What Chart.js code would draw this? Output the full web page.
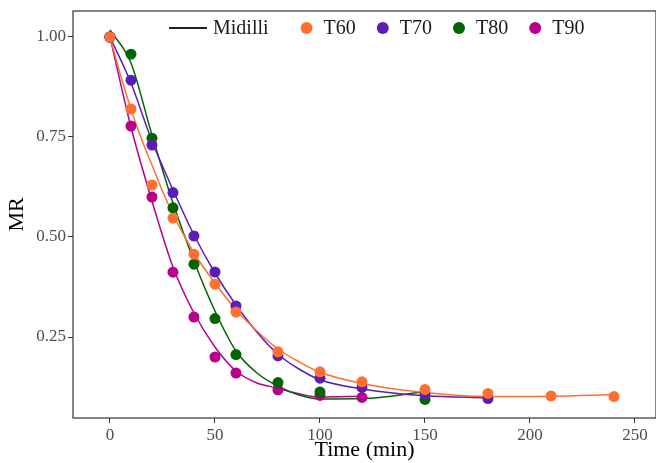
<!DOCTYPE html>
<html>
<head>
<meta charset="utf-8">
<script src="https://cdn.jsdelivr.net/npm/chart.js@4"></script>
<style>
  html, body { margin: 0; padding: 0; background: #fff; }
</style>
</head>
<body>
<canvas id="mrChart" width="656" height="463"></canvas>
<script>
// measured points (time in min, MR)
const t60Time = [0, 10, 20, 30, 40, 50, 60, 80, 100, 120, 150, 180, 210, 240];
const t60MR   = [1.00, 0.82, 0.63, 0.547, 0.457, 0.382, 0.3125, 0.213, 0.163, 0.138, 0.119, 0.109, 0.1025, 0.101];
const t70Time = [0, 10, 20, 30, 40, 50, 60, 80, 100, 120, 150, 180];
const t70MR   = [1.00, 0.892, 0.73, 0.611, 0.5025, 0.4125, 0.3275, 0.203, 0.147, 0.124, 0.107, 0.096];
const t80Time = [0, 10, 20, 30, 40, 50, 60, 80, 100, 150];
const t80MR   = [1.00, 0.957, 0.747, 0.573, 0.432, 0.296, 0.206, 0.136, 0.1125, 0.094];
const t90Time = [0, 10, 20, 30, 40, 50, 60, 80, 100, 120];
const t90MR   = [1.00, 0.7775, 0.60, 0.412, 0.30, 0.20, 0.16, 0.118, 0.104, 0.099];

// Midilli fitted curves
const fit60Time = [0, 5, 10, 15, 20, 25, 30, 40, 50, 60, 70, 80, 90, 100, 120, 150, 180, 210, 240];
const fit60MR   = [1.00, 0.905, 0.82, 0.745, 0.68, 0.615, 0.557, 0.46, 0.385, 0.318, 0.265, 0.22, 0.188, 0.162, 0.134, 0.111, 0.101, 0.102, 0.106];
const fit70Time = [0, 10, 20, 30, 40, 50, 60, 70, 80, 90, 100, 120, 150, 180];
const fit70MR   = [1.00, 0.885, 0.74, 0.618, 0.505, 0.41, 0.33, 0.262, 0.207, 0.17, 0.143, 0.12, 0.103, 0.098];
const fit80Time = [0, 10, 20, 30, 40, 50, 60, 70, 80, 90, 100, 120, 150];
const fit80MR   = [1.018, 0.935, 0.755, 0.585, 0.44, 0.315, 0.215, 0.16, 0.127, 0.105, 0.095, 0.096, 0.113];
const fit90Time = [0, 10, 20, 30, 40, 50, 60, 70, 80, 90, 100, 120];
const fit90MR   = [1.00, 0.775, 0.59, 0.425, 0.31, 0.225, 0.165, 0.135, 0.122, 0.108, 0.100, 0.102];

const xTicks = [0, 50, 100, 150, 200, 250];
const yTicks = [0.25, 0.50, 0.75, 1.00];

const seriesNames  = ['T60', 'T70', 'T80', 'T90'];
const seriesColors = ['#ff7030', '#5b1db5', '#006400', '#b8008c'];

const serif = '"Liberation Serif", "DejaVu Serif", serif';

function toXY(xs, ys) {
  return xs.map((x, i) => ({ x: x, y: ys[i] }));
}

const pointSets = [[t60Time, t60MR], [t70Time, t70MR], [t80Time, t80MR], [t90Time, t90MR]];
const fitSets   = [[fit60Time, fit60MR], [fit70Time, fit70MR], [fit80Time, fit80MR], [fit90Time, fit90MR]];

const datasets = [];
pointSets.forEach((s, i) => {
  datasets.push({
    label: seriesNames[i],
    data: toXY(s[0], s[1]),
    showLine: false,
    pointRadius: 5.5,
    pointHoverRadius: 5.5,
    pointBackgroundColor: seriesColors[i],
    pointBorderWidth: 0,
    borderColor: seriesColors[i],
    order: 0
  });
});
fitSets.forEach((s, i) => {
  datasets.push({
    label: 'Midilli ' + seriesNames[i],
    data: toXY(s[0], s[1]),
    showLine: true,
    borderColor: seriesColors[i],
    borderWidth: 1.5,
    pointRadius: 0,
    cubicInterpolationMode: 'monotone',
    order: 1
  });
});

// frame around the panel
const framePlugin = {
  id: 'frame',
  afterDatasetsDraw(chart) {
    const a = chart.chartArea;
    const ctx = chart.ctx;
    ctx.save();
    ctx.strokeStyle = '#333333';
    ctx.lineWidth = 1.2;
    ctx.strokeRect(a.left, a.top, a.right - a.left, a.bottom - a.top);
    ctx.restore();
  }
};

// legend drawn inside the panel like ggplot
const legendPlugin = {
  id: 'insideLegend',
  afterDraw(chart) {
    const ctx = chart.ctx;
    const y = 28;
    let x = 169;
    ctx.save();
    ctx.font = '20px ' + serif;
    ctx.textBaseline = 'middle';
    ctx.fillStyle = '#1a1a1a';
    ctx.strokeStyle = '#222222';
    ctx.lineWidth = 1.8;
    ctx.beginPath();
    ctx.moveTo(x, y);
    ctx.lineTo(x + 38, y);
    ctx.stroke();
    ctx.fillText('Midilli', x + 44, y + 1);
    x += 44 + ctx.measureText('Midilli').width + 38;
    seriesNames.forEach((name, i) => {
      ctx.fillStyle = seriesColors[i];
      ctx.beginPath();
      ctx.arc(x, y, 6, 0, Math.PI * 2);
      ctx.fill();
      ctx.fillStyle = '#1a1a1a';
      ctx.fillText(name, x + 17, y + 1);
      x += 17 + ctx.measureText(name).width + 27;
    });
    ctx.restore();
  }
};

const mrChart = new Chart(document.getElementById('mrChart'), {
  type: 'scatter',
  data: { datasets: datasets },
  options: {
    responsive: false,
    animation: false,
    layout: { autoPadding: false, padding: { top: 11, right: 0, left: 0, bottom: 0 } },
    plugins: {
      legend: { display: false },
      tooltip: { enabled: false }
    },
    scales: {
      x: {
        type: 'linear',
        min: -17.6,
        max: 260,
        afterBuildTicks(axis) { axis.ticks = xTicks.map(v => ({ value: v })); },
        afterFit(axis) {
          axis.height = 45;
          axis.paddingLeft = 0;
          axis.paddingRight = 0;
        },
        grid: { drawOnChartArea: false, drawTicks: true, tickLength: 5, color: '#333333' },
        border: { display: false },
        ticks: {
          padding: 2,
          color: '#4d4d4d',
          font: { family: serif, size: 17 },
          callback: v => String(v)
        },
        title: {
          display: true,
          text: 'Time (min)',
          color: '#000000',
          font: { family: serif, size: 22 },
          padding: { top: -5, bottom: 0 }
        }
      },
      y: {
        type: 'linear',
        min: 0.0475,
        max: 1.065,
        afterBuildTicks(axis) { axis.ticks = yTicks.map(v => ({ value: v })); },
        afterFit(axis) {
          axis.width = 73;
          axis.paddingTop = 0;
          axis.paddingBottom = 0;
        },
        grid: { drawOnChartArea: false, drawTicks: true, tickLength: 5, color: '#333333' },
        border: { display: false },
        ticks: {
          padding: 2,
          color: '#4d4d4d',
          font: { family: serif, size: 17 },
          callback: v => v.toFixed(2)
        },
        title: {
          display: true,
          text: 'MR',
          color: '#000000',
          font: { family: serif, size: 22 },
          padding: { top: 4, bottom: 0 }
        }
      }
    }
  },
  plugins: [framePlugin, legendPlugin]
});
</script>
</body>
</html>
